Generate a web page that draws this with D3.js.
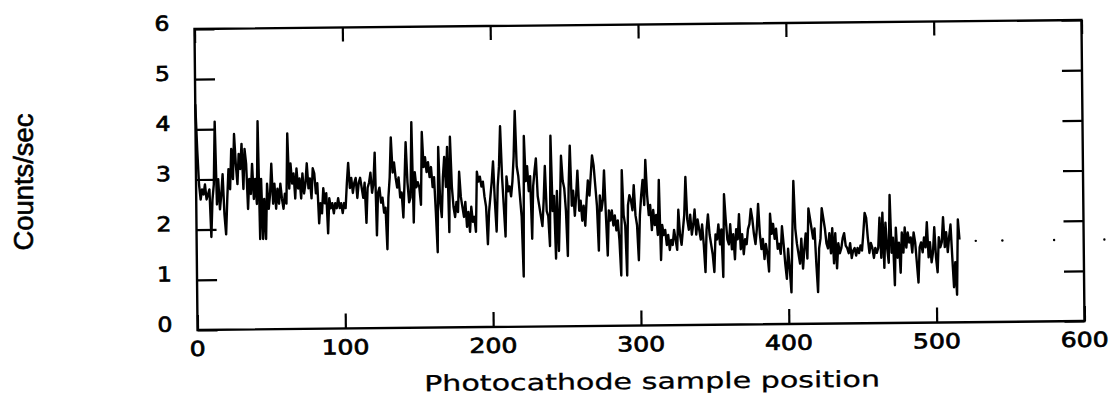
<!DOCTYPE html>
<html>
<head>
<meta charset="utf-8">
<script src="https://cdn.jsdelivr.net/npm/d3@7/dist/d3.min.js"></script>
<style>
  html, body { margin: 0; padding: 0; background: #fff; }
  svg { display: block; }
</style>
</head>
<body>
<svg id="chart" width="1115" height="396"></svg>
<script>
// Photocathode counts, one value per sample position (0..516)
const counts = [
  4.5, 3.6, 2.9, 2.6, 2.8, 2.7, 2.9, 2.6, 2.7, 2.8,
  1.85, 2.6, 2.9, 4.15, 2.5, 3.0, 2.4, 2.7, 3.1, 2.3,
  1.9, 2.6, 3.2, 2.8, 3.6, 3.0, 3.9, 3.3, 2.9, 3.5,
  3.2, 3.7, 2.8, 3.6, 3.3, 2.4, 3.0, 2.7, 3.3, 2.6,
  3.0, 2.5, 4.15, 1.8, 3.0, 1.8, 2.6, 1.8, 2.9, 2.4,
  2.7, 3.3, 2.5, 2.9, 2.4, 2.8, 2.5, 2.9, 2.6, 2.4,
  2.7, 2.5, 3.9, 2.8, 3.3, 2.9, 3.1, 2.6, 3.2, 2.8,
  3.0, 2.6, 3.1, 2.7, 2.9, 3.3, 2.8, 3.0, 2.6, 3.2,
  3.1, 2.7, 2.9, 2.1, 2.5, 2.3, 2.8, 2.5, 2.7, 1.9,
  2.6, 2.4, 2.5, 2.3, 2.5, 2.4, 2.6, 2.4, 2.5, 2.3,
  2.5, 2.4, 2.9, 3.3, 2.8, 3.0, 2.7, 2.9, 3.0, 2.6,
  2.9, 3.0, 2.8, 2.6, 2.9, 2.1, 2.8, 2.9, 3.1, 2.7,
  2.9, 3.5, 1.85, 2.7, 2.8, 2.5, 2.6, 2.3, 2.4, 1.57,
  2.6, 3.0, 3.8, 3.1, 3.3, 3.0, 2.8, 3.0, 2.6, 2.7,
  2.2, 2.9, 3.7, 2.9, 2.5, 2.6, 4.1, 2.1, 3.1, 2.8,
  2.9, 2.8, 2.45, 3.9, 3.2, 3.4, 3.1, 3.3, 3.0, 3.2,
  2.8, 3.0, 2.3, 1.5, 3.6, 2.5, 2.2, 3.0, 3.4, 2.8,
  3.6, 1.9, 3.8, 2.8, 2.4, 2.2, 2.5, 2.3, 3.1, 2.6,
  2.4, 2.2, 2.5, 2.0, 2.3, 1.9, 2.4, 2.1, 2.2, 1.9,
  3.1, 2.9, 3.0, 2.8, 2.9, 2.6, 2.4, 1.65, 2.3, 2.6,
  2.9, 3.3, 2.5, 1.9, 2.8, 3.2, 4.0, 3.0, 2.4, 1.8,
  3.0, 2.7, 2.8, 2.6, 2.9, 3.4, 4.3, 3.2, 3.0, 2.6,
  2.2, 1.0, 3.8, 2.9, 3.2, 2.7, 3.0, 1.75, 2.8, 3.1,
  3.35, 2.6, 2.4, 2.2, 2.0, 2.5, 3.2, 2.3, 2.2, 1.6,
  3.8, 2.3, 2.6, 1.35, 2.7, 1.5, 2.4, 3.4, 2.9, 2.75,
  2.3, 1.4, 2.8, 3.6, 2.4, 2.7, 2.2, 2.6, 3.1, 2.3,
  2.5, 2.1, 2.4, 2.0, 2.5, 2.9, 2.6, 3.0, 3.4, 3.2,
  2.8, 2.4, 1.5, 2.6, 2.3, 2.5, 3.1, 2.2, 1.4, 2.3,
  2.1, 2.3, 2.0, 2.2, 1.9, 2.1, 1.7, 1.0, 3.1, 2.2,
  2.0, 1.0, 2.4, 2.6, 2.5, 2.3, 2.8, 2.2, 2.0, 1.3,
  2.2, 2.6, 2.9, 2.4, 3.3, 2.6, 2.2, 2.4, 1.9, 2.3,
  2.0, 2.2, 1.8, 2.9, 1.3, 2.0, 1.8, 1.9, 1.6, 1.8,
  1.5, 1.7, 1.6, 1.9, 1.7, 1.5, 2.3, 1.8, 1.6, 1.9,
  2.2, 2.95, 2.1, 1.9, 2.2, 1.8, 2.0, 2.3, 1.8, 2.1,
  1.9, 1.7, 2.0, 1.6, 1.05, 1.9, 2.2, 1.8, 1.6, 1.4,
  1.05, 1.8, 1.7, 2.0, 1.6, 1.9, 0.95, 2.6, 2.1, 1.7,
  1.6, 2.0, 1.5, 1.8, 1.3, 1.9, 1.7, 2.2, 1.5, 1.8,
  1.4, 1.7, 1.6, 1.9, 2.0, 2.3, 2.1, 1.8, 1.6, 1.9,
  2.4, 1.8, 1.5, 1.7, 1.3, 1.6, 1.4, 1.05, 2.2, 1.8,
  2.0, 1.7, 1.9, 1.5, 1.6, 1.4, 1.95, 1.6, 1.2, 0.9,
  1.5, 1.1, 0.63, 1.8, 2.85, 1.9, 1.6, 1.4, 1.2, 1.7,
  1.1, 1.5, 1.8, 1.3, 2.3, 2.1, 1.9, 1.7, 1.9, 1.2,
  0.63, 1.5, 1.7, 2.3, 2.1, 1.9, 1.6, 1.5, 1.8, 1.4,
  1.9, 1.2, 1.8, 1.1, 1.6, 1.4, 1.5, 1.7, 1.8, 1.55,
  1.5, 1.4, 1.6, 1.3, 1.45, 1.5, 1.35, 1.5, 1.4, 1.55,
  1.45, 1.8, 2.2, 2.1, 1.7, 1.4, 1.6, 1.5, 1.3, 1.5,
  1.4, 1.5, 2.1, 1.3, 2.2, 1.1, 2.0, 1.5, 1.2, 2.55,
  1.4, 1.7, 0.75, 1.9, 1.3, 1.6, 1.0, 1.8, 1.4, 1.9,
  1.5, 1.8, 1.6, 1.7, 1.4, 1.8, 1.6, 1.2, 0.8, 1.5,
  1.6, 1.4, 1.7, 1.5, 2.0, 1.3, 1.6, 1.2, 1.4, 1.9,
  1.3, 1.0, 1.7, 1.5, 1.6, 2.1, 1.5, 1.8, 1.4, 1.7,
  1.95, 1.3, 0.7, 1.2, 0.55, 2.05, 1.65
]

// Stray dots to the right of the trace (sample position, value)
const speckX = [527, 545, 580, 614]
const speckY = [1.62, 1.62, 1.62, 1.62]

const xTicks = [0, 100, 200, 300, 400, 500, 600]
const yTicks = [0, 1, 2, 3, 4, 5, 6]

const xTitle = 'Photocathode sample position'
const yTitle = 'Counts/sec'

const cfg = {
  left: 196,
  right: 1083,
  top: 24.5,
  bottom: 325.5,
  tilt: -0.58, // the scanned page is slightly rotated
  cx: 640,
  cy: 175,
  ink: '#000'
}

const svg = d3.select('#chart')

const x = d3.scaleLinear().domain([0, 600]).range([cfg.left, cfg.right])
const y = d3.scaleLinear().domain([0, 6]).range([cfg.bottom, cfg.top])

const g = svg
  .append('g')
  .attr('transform', `rotate(${cfg.tilt}, ${cfg.cx}, ${cfg.cy})`)

// Ticks on all four sides, pointing inward
const inner = g.append('g').attr('class', 'ticks')

inner
  .append('g')
  .attr('transform', `translate(0, ${cfg.bottom})`)
  .call(d3.axisBottom(x).tickValues(xTicks).tickSizeInner(-15).tickSizeOuter(0).tickFormat(''))
inner
  .append('g')
  .attr('transform', `translate(0, ${cfg.top})`)
  .call(d3.axisTop(x).tickValues(xTicks).tickSizeInner(-14).tickSizeOuter(0).tickFormat(''))
inner
  .append('g')
  .attr('transform', `translate(${cfg.left}, 0)`)
  .call(d3.axisLeft(y).tickValues(yTicks).tickSizeInner(-20).tickSizeOuter(0).tickFormat(''))
inner
  .append('g')
  .attr('transform', `translate(${cfg.right}, 0)`)
  .call(d3.axisRight(y).tickValues(yTicks).tickSizeInner(-20).tickSizeOuter(0).tickFormat(''))

inner.selectAll('.domain').remove()
inner
  .selectAll('.tick line')
  .attr('stroke', cfg.ink)
  .attr('stroke-width', 2.2)

// Frame
g.append('rect')
  .attr('x', cfg.left)
  .attr('y', cfg.top)
  .attr('width', cfg.right - cfg.left)
  .attr('height', cfg.bottom - cfg.top)
  .attr('fill', 'none')
  .attr('stroke', cfg.ink)
  .attr('stroke-width', 2.4)

// Tick labels
g.append('g')
  .selectAll('text')
  .data(xTicks)
  .enter()
  .append('text')
  .attr('x', (d) => x(d))
  .attr('y', cfg.bottom + 18.5)
  .attr('dy', '0.36em')
  .attr('text-anchor', 'middle')
  .attr('font-family', 'DejaVu Sans, sans-serif')
  .attr('font-size', 20.5)
  .attr('textLength', (d) => String(d).length * 16)
  .attr('lengthAdjust', 'spacingAndGlyphs')
  .attr('fill', cfg.ink)
  .attr('stroke', cfg.ink)
  .attr('stroke-width', 0.7)
  .text((d) => d)

g.append('g')
  .selectAll('text')
  .data(yTicks)
  .enter()
  .append('text')
  .attr('x', cfg.left - 25)
  .attr('y', (d) => y(d) - 6)
  .attr('dy', '0.36em')
  .attr('text-anchor', 'end')
  .attr('font-family', 'DejaVu Sans, sans-serif')
  .attr('font-size', 20.5)
  .attr('textLength', 15)
  .attr('lengthAdjust', 'spacingAndGlyphs')
  .attr('fill', cfg.ink)
  .attr('stroke', cfg.ink)
  .attr('stroke-width', 0.7)
  .text((d) => d)

// Axis titles
g.append('text')
  .attr('x', 650)
  .attr('y', 389)
  .attr('text-anchor', 'middle')
  .attr('font-family', 'DejaVu Sans, sans-serif')
  .attr('font-size', 22)
  .attr('textLength', 456)
  .attr('lengthAdjust', 'spacingAndGlyphs')
  .attr('fill', cfg.ink)
  .attr('stroke', cfg.ink)
  .attr('stroke-width', 0.3)
  .text(xTitle)

svg
  .append('text')
  .attr('transform', 'translate(33, 182) rotate(-90)')
  .attr('text-anchor', 'middle')
  .attr('font-family', 'Liberation Sans, Arial, sans-serif')
  .attr('font-size', 27)
  .attr('textLength', 137)
  .attr('lengthAdjust', 'spacingAndGlyphs')
  .attr('fill', cfg.ink)
  .attr('stroke', cfg.ink)
  .attr('stroke-width', 0.6)
  .text(yTitle)

// The trace
const line = d3
  .line()
  .x((d, i) => x(i))
  .y((d) => y(d))

g.append('path')
  .datum(counts)
  .attr('d', line)
  .attr('fill', 'none')
  .attr('stroke', cfg.ink)
  .attr('stroke-width', 2.4)
  .attr('stroke-linejoin', 'round')

g.append('g')
  .selectAll('circle')
  .data(speckX)
  .enter()
  .append('circle')
  .attr('cx', (d) => x(d))
  .attr('cy', (d, i) => y(speckY[i]))
  .attr('r', 1.2)
  .attr('fill', cfg.ink)
</script>
</body>
</html>
